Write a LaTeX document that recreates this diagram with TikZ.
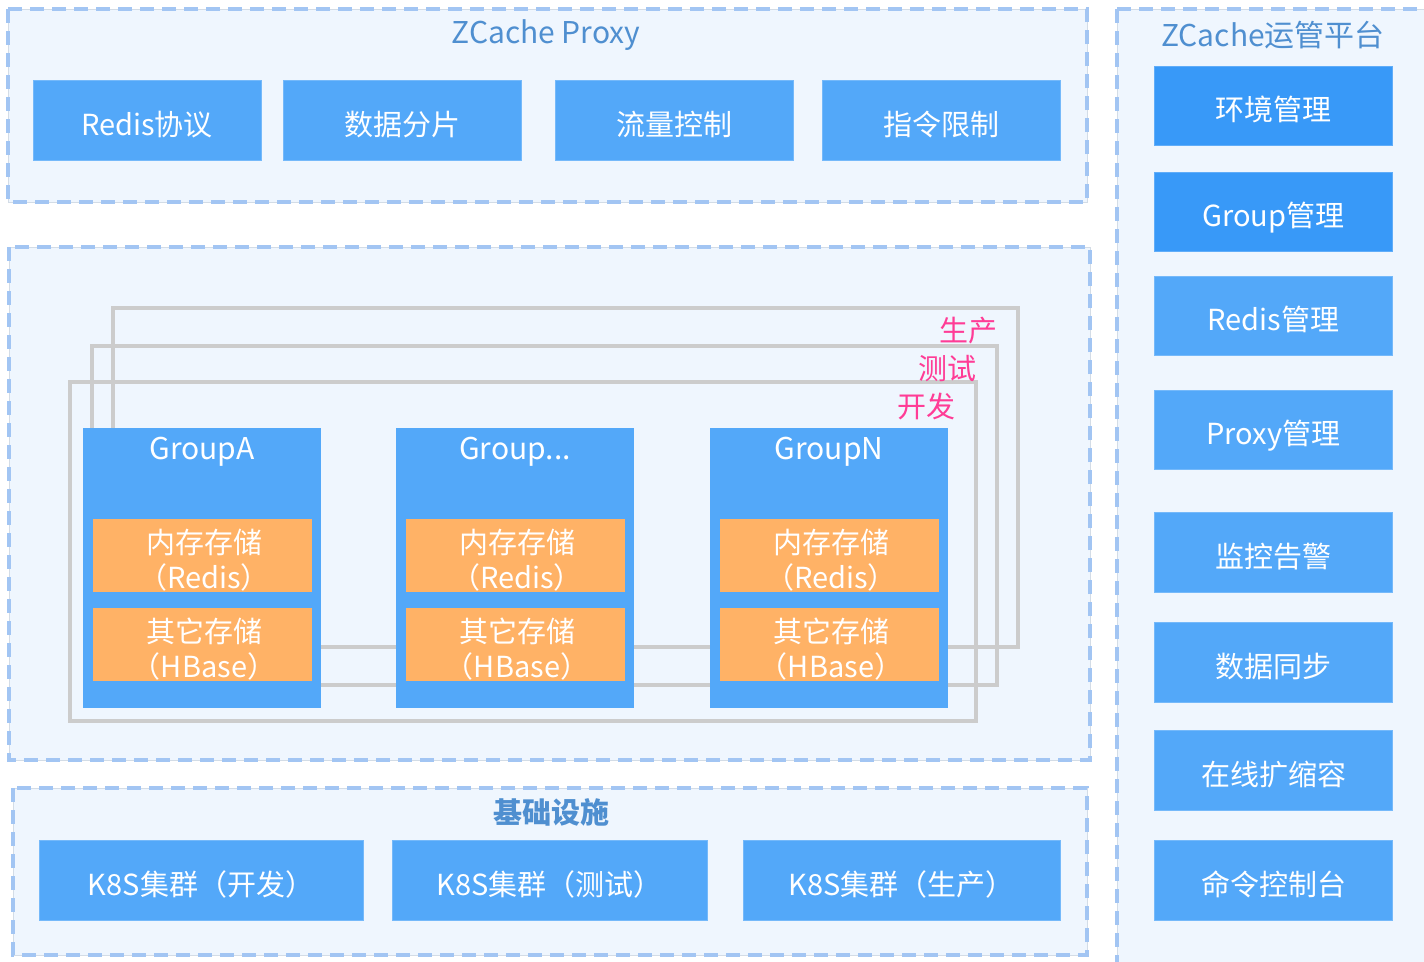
\documentclass[tikz,border=0pt]{standalone}
\usepackage{fontspec}
\setmainfont{Noto Sans CJK SC}
\begin{document}
\begin{tikzpicture}[x=1pt,y=-1pt,
  bgc/.style={fill=bgcol,draw=edgecol,line width=0.8pt},
  dashframe/.style={draw=dashcol,line width=4pt,dash pattern=on 14pt off 8pt},
  box/.style={fill=boxcol,draw=boxcol!80!white,line width=0.6pt,inner sep=0pt,outer sep=0pt,text=white,font=\fontsize{29}{33}\selectfont,text height=30pt,text depth=0pt},
  darkbox/.style={box,fill=darkcol,draw=darkcol!80!white},
  orbox/.style={fill=orcol,inner sep=0pt,outer sep=0pt,minimum width=219pt,minimum height=73pt},
  ortext/.style={text=white,align=center,font=\fontsize{29}{35}\selectfont,inner sep=0pt},
  grp/.style={fill=boxcol,inner sep=0pt,outer sep=0pt,minimum width=238pt,minimum height=280pt},
  grpt/.style={text=white,font=\fontsize{30}{34}\selectfont},
  envrect/.style={draw=graycol,line width=4pt},
  title/.style={text=titlecol,font=\fontsize{30}{34}\selectfont},
  envlbl/.style={text=pinkcol,font=\fontsize{29}{33}\selectfont,inner sep=0pt}]
\definecolor{bgcol}{HTML}{EFF6FE}
\definecolor{edgecol}{HTML}{D3DCE6}
\definecolor{dashcol}{HTML}{A2C5F3}
\definecolor{boxcol}{HTML}{53A8F9}
\definecolor{darkcol}{HTML}{3899F8}
\definecolor{orcol}{HTML}{FFB266}
\definecolor{graycol}{HTML}{CCCCCC}
\definecolor{titlecol}{HTML}{4F8FD0}
\definecolor{pinkcol}{HTML}{FF3C96}
\useasboundingbox (0,0) rectangle (1424,961);
\fill[white] (0,0) rectangle (1424,961);

% ---------- ZCache Proxy ----------
\draw[bgc] (8,9) rectangle (1087,202);
\draw[dashframe] (8,9) rectangle (1087,202);
\node[title] (proxyt) at (546,35) {ZCache Proxy};
\node[box,minimum width=228pt,minimum height=80pt] (p1) at (147,120) {Redis协议};
\node[box,minimum width=238pt,minimum height=80pt] (p2) at (402,120) {数据分片};
\node[box,minimum width=238pt,minimum height=80pt] (p3) at (674,120) {流量控制};
\node[box,minimum width=238pt,minimum height=80pt] (p4) at (941,120) {指令限制};

% ---------- middle ----------
\draw[bgc] (9,247) rectangle (1090,760);
\draw[dashframe] (9,247) rectangle (1090,760);
\draw[envrect] (113,308) rectangle (1018,647);
\draw[envrect] (92,346) rectangle (997,685);
\draw[envrect] (70,382) rectangle (976,721);
\node[envlbl,anchor=east] (lp) at (998,331) {生产};
\node[envlbl,anchor=east] (lt) at (977,369) {测试};
\node[envlbl,anchor=east] (ld) at (956,406) {开发};

\node[grp] (gA) at (202,568) {};
\node[grpt] (gAt) at (202,452) {GroupA};
\node[orbox] (gAm) at (202.5,555.5) {};
\node[ortext] (gAmt) at (204,560) {内存存储\\（Redis）};
\node[orbox] (gAo) at (202.5,644.5) {};
\node[ortext] (gAot) at (204,649) {其它存储\\（HBase）};

\node[grp] (gB) at (515,568) {};
\node[grpt] (gBt) at (515,452) {Group{.}{.}{.}};
\node[orbox] (gBm) at (515.5,555.5) {};
\node[ortext] (gBmt) at (517,560) {内存存储\\（Redis）};
\node[orbox] (gBo) at (515.5,644.5) {};
\node[ortext] (gBot) at (517,649) {其它存储\\（HBase）};

\node[grp] (gN) at (829,568) {};
\node[grpt] (gNt) at (829,452) {GroupN};
\node[orbox] (gNm) at (829.5,555.5) {};
\node[ortext] (gNmt) at (831,560) {内存存储\\（Redis）};
\node[orbox] (gNo) at (829.5,644.5) {};
\node[ortext] (gNot) at (831,649) {其它存储\\（HBase）};

% ---------- infra ----------
\draw[bgc] (13,788) rectangle (1087,955);
\draw[dashframe] (13,788) rectangle (1087,955);
\node[title,font=\bfseries\fontsize{29}{33}\selectfont] (infrat) at (551,812) {基础设施};
\node[box,minimum width=324pt,minimum height=80pt] (k1) at (201,880) {K8S集群（开发）};
\node[box,minimum width=315pt,minimum height=80pt] (k2) at (549.5,880) {K8S集群（测试）};
\node[box,minimum width=317pt,minimum height=80pt] (k3) at (901.5,880) {K8S集群（生产）};

% ---------- right platform ----------
\draw[bgc] (1117,9) rectangle (1440,980);
\draw[dashframe] (1117,9) rectangle (1440,980);
\node[title] (platt) at (1273,35) {ZCache运管平台};
\node[darkbox,minimum width=238pt,minimum height=79pt] (r1) at (1273.5,105.5) {环境管理};
\node[darkbox,minimum width=238pt,minimum height=79pt] (r2) at (1273.5,211.5) {Group管理};
\node[box,minimum width=238pt,minimum height=79pt] (r3) at (1273.5,315.5) {Redis管理};
\node[box,minimum width=238pt,minimum height=79pt] (r4) at (1273.5,429.5) {Proxy管理};
\node[box,minimum width=238pt,minimum height=80pt] (r5) at (1273.5,552) {监控告警};
\node[box,minimum width=238pt,minimum height=80pt] (r6) at (1273.5,662) {数据同步};
\node[box,minimum width=238pt,minimum height=80pt] (r7) at (1273.5,770) {在线扩缩容};
\node[box,minimum width=238pt,minimum height=80pt] (r8) at (1273.5,880) {命令控制台};
\end{tikzpicture}
\end{document}
